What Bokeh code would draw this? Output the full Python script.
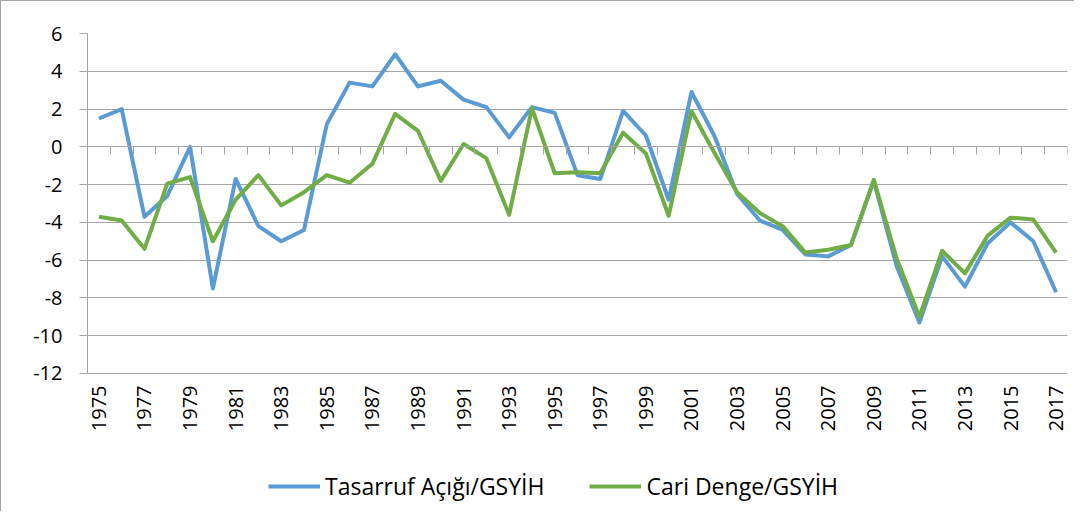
import math
from bokeh.plotting import figure
from bokeh.models import (Range1d, LinearAxis, FixedTicker, Legend, LegendItem,
                          ColumnDataSource, Grid, CustomJSTickFormatter)
from bokeh.embed import file_html
from bokeh.resources import INLINE

# ---- data ----
years = list(range(1975, 2018))
tasarruf_acigi = [1.5, 2.0, -3.7, -2.6, 0.0, -7.5, -1.7, -4.2, -5.0, -4.4,
                  1.2, 3.4, 3.2, 4.9, 3.2, 3.5, 2.5, 2.1, 0.5, 2.1,
                  1.8, -1.5, -1.7, 1.9, 0.6, -2.8, 2.9, 0.6, -2.5, -3.9,
                  -4.4, -5.7, -5.8, -5.2, -1.8, -6.3, -9.3, -5.8, -7.4, -5.1,
                  -4.0, -5.0, -7.7]
cari_denge = [-3.7, -3.9, -5.4, -1.95, -1.6, -5.0, -2.8, -1.5, -3.1, -2.4,
              -1.5, -1.9, -0.9, 1.75, 0.85, -1.8, 0.15, -0.6, -3.6, 2.05,
              -1.4, -1.35, -1.4, 0.75, -0.35, -3.65, 1.9, -0.3, -2.4, -3.5,
              -4.2, -5.6, -5.45, -5.2, -1.75, -5.9, -9.0, -5.5, -6.7, -4.7,
              -3.75, -3.85, -5.6]
x_tick_labels = list(range(1975, 2018, 2))
y_ticks = [-12, -10, -8, -6, -4, -2, 0, 2, 4, 6]
series_names = ["Tasarruf Açığı/GSYİH", "Cari Denge/GSYİH"]
series_colors = ["#5B9BD5", "#70AD47"]

FONT = "Open Sans"
GRAY = "#A6A6A6"

# frame reaches to the bottom of the figure so that the legend (drawn inside
# the frame) can sit below the axis labels; the visible axis spans -12..6
Y_LOW_EXTENT = -19.36

src = ColumnDataSource(dict(year=years, tas=tasarruf_acigi, cari=cari_denge))

p = figure(width=1074, height=511, output_backend="svg", toolbar_location=None,
           x_range=Range1d(years[0] - 0.5, years[-1] + 0.5),
           y_range=Range1d(Y_LOW_EXTENT, y_ticks[-1]),
           x_axis_type=None, y_axis_type=None,
           min_border_left=86, min_border_right=8, min_border_top=32,
           min_border_bottom=0)
p.outline_line_color = None
p.background_fill_color = "white"
p.border_fill_color = "white"
p.styles = {"border-left": "1px solid #A6A6A6", "border-top": "1px solid #A6A6A6"}

yticker = FixedTicker(ticks=y_ticks)
yaxis = LinearAxis(ticker=yticker, bounds=(y_ticks[0], y_ticks[-1]),
                   axis_line_color=GRAY, major_tick_line_color=GRAY,
                   major_tick_out=8, major_tick_in=0, minor_tick_line_color=None,
                   major_label_text_font=FONT, major_label_text_font_size="20px",
                   major_label_text_color="black", major_label_standoff=17,
                   formatter=CustomJSTickFormatter(code="return tick.toString()"))
p.add_layout(yaxis, "left")
p.add_layout(Grid(dimension=1, ticker=yticker, grid_line_color=GRAY, grid_line_width=1))

# category boundary ticks on the zero line
bounds = [y - 0.5 for y in years] + [years[-1] + 0.5]
zaxis = LinearAxis(ticker=FixedTicker(ticks=bounds), fixed_location=0,
                   axis_line_color=GRAY, major_tick_line_color=GRAY,
                   major_tick_out=8, major_tick_in=0, minor_tick_line_color=None,
                   formatter=CustomJSTickFormatter(code="return ''"),
                   major_label_text_font_size="1px", major_label_standoff=0)
p.add_layout(zaxis, "below")

# year labels hanging below the -12 line
xaxis = LinearAxis(ticker=FixedTicker(ticks=x_tick_labels), fixed_location=y_ticks[0],
                   axis_line_color=None,
                   major_tick_line_color=None, minor_tick_line_color=None,
                   major_tick_out=0, major_tick_in=0,
                   major_label_orientation=math.pi / 2, major_label_standoff=12,
                   major_label_text_font=FONT, major_label_text_font_size="20px",
                   major_label_text_color="black",
                   formatter=CustomJSTickFormatter(code="return String(tick)"))
p.add_layout(xaxis, "below")

r1 = p.line("year", "tas", source=src, line_color=series_colors[0], line_width=4,
            line_join="round")
r2 = p.line("year", "cari", source=src, line_color=series_colors[1], line_width=4,
            line_join="round")

legend = Legend(items=[LegendItem(label=series_names[0], renderers=[r1]),
                       LegendItem(label=series_names[1], renderers=[r2])],
                location=(181, 10), orientation="horizontal",
                glyph_width=52, glyph_height=24, label_standoff=5, spacing=45,
                padding=0, margin=0, border_line_color=None,
                background_fill_alpha=0,
                label_text_font=FONT, label_text_font_size="23px",
                label_text_color="black")
p.add_layout(legend)

open("out.html", "w").write(file_html(p, INLINE))
